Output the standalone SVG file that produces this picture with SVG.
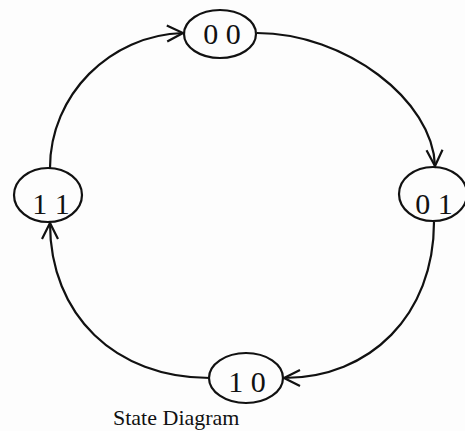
<svg xmlns="http://www.w3.org/2000/svg" width="465" height="431" viewBox="0 0 465 431">
<style>
.node ellipse{fill:none;stroke:#111;stroke-width:2.2}
.node text{font-family:"Liberation Serif","Times New Roman",serif;font-size:30px;fill:#111;text-anchor:middle}
.edge{fill:none;stroke:#111;stroke-width:2.2;marker-end:url(#arr)}
.caption{font-family:"Liberation Serif","Times New Roman",serif;font-size:22px;fill:#111}
</style>
<defs>
<marker id="arr" markerUnits="userSpaceOnUse" markerWidth="24" markerHeight="24" viewBox="-20 -12 24 24" refX="0" refY="0" orient="auto">
<path d="M-16,-8 L0,0 L-16,8" fill="none" stroke="#111" stroke-width="2.2"/>
</marker>
</defs>
<rect width="465" height="431" fill="#fdfdfd"/>
<g id="connectors">
<path class="edge" d="M50,168 C50,95 110,35 183,33"/>
<path class="edge" d="M257,33 C345,33 433,100 435,166"/>
<path class="edge" d="M434,222 C434,315 370,378 284,378"/>
<path class="edge" d="M210,378 C115,378 50,315 50,223"/>
</g>
<g id="n00" class="node"><ellipse cx="220" cy="34" rx="36" ry="24"/><text x="222" y="44">0 0</text></g>
<g id="n01" class="node"><ellipse cx="433" cy="194" rx="34" ry="27"/><text x="434" y="214">0 1</text></g>
<g id="n10" class="node"><ellipse cx="246" cy="378" rx="37" ry="25"/><text x="247" y="392">1 0</text></g>
<g id="n11" class="node"><ellipse cx="48" cy="195" rx="34" ry="27"/><text x="51" y="214">1 1</text></g>
<text class="caption" x="113" y="425">State Diagram</text>
</svg>
